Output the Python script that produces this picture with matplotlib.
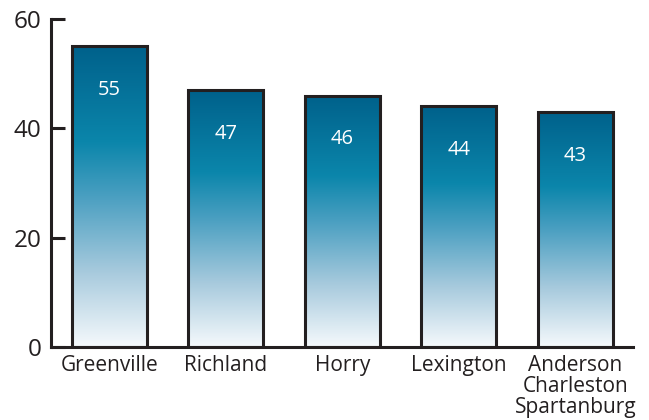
import numpy as np
import matplotlib.pyplot as plt
from matplotlib.colors import LinearSegmentedColormap

# data
counties = ["Greenville", "Richland", "Horry", "Lexington", "Anderson\nCharleston\nSpartanburg"]
counts = [55, 47, 46, 44, 43]
y_ticks = [0, 20, 40, 60]

plt.rcParams['font.family'] = ['Open Sans', 'DejaVu Sans']
ink = '#231f20'

# white at the bottom of each bar, dark teal-blue at the top
grad = LinearSegmentedColormap.from_list(
    "bar_grad",
    [(0.0, '#f5f9fc'), (0.25, '#a7cadd'), (0.5, '#4a9fc1'),
     (0.68, '#0b86ab'), (1.0, '#00618b')])

fig = plt.figure(figsize=(6.49, 4.2), dpi=100)
ax = fig.add_axes([0.0786, 0.1738, 0.8964, 0.781])

x = np.arange(len(counties))
width = 0.644
bars = ax.bar(x, counts, width=width, facecolor='none', edgecolor=ink,
              linewidth=2.2, zorder=3)

# gradient fill clipped to each bar
ramp = np.linspace(0, 1, 256).reshape(-1, 1)
for b in bars:
    x0, y0 = b.get_x(), b.get_y()
    im = ax.imshow(ramp, cmap=grad, origin='lower', aspect='auto',
                   extent=[x0, x0 + b.get_width(), y0, y0 + b.get_height()],
                   zorder=2)
    im.set_clip_path(b)

for xi, v in zip(x, counts):
    ax.text(xi, v - 8, str(v), ha='center', va='center', color='white',
            fontsize=14.5)

ax.set_xlim(-0.502, 4.494)
ax.set_ylim(0, 60)
ax.set_yticks(y_ticks)
ax.set_xticks(x)
ax.set_xticklabels(counties, linespacing=0.98)
ax.tick_params(axis='y', direction='in', length=10, width=2.2, color=ink,
               labelsize=17.5, pad=7, labelcolor=ink)
ax.tick_params(axis='x', length=0, labelsize=15, pad=6, labelcolor=ink)

for s in ['top', 'right']:
    ax.spines[s].set_visible(False)
for s in ['left', 'bottom']:
    ax.spines[s].set_linewidth(2.2)
    ax.spines[s].set_color(ink)

plt.savefig('out.png', dpi=100)
